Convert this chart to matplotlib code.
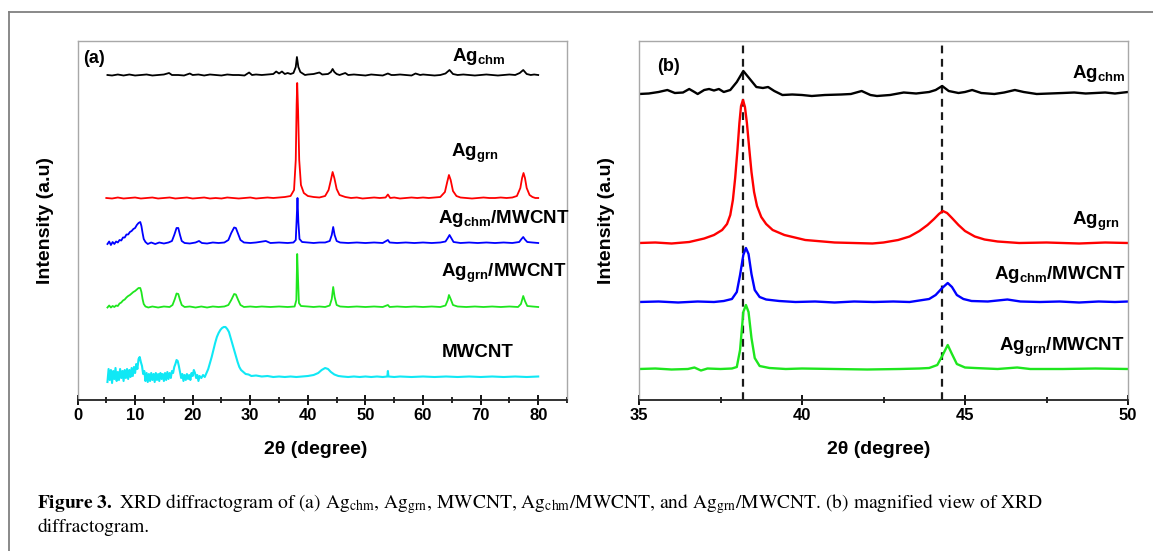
import matplotlib
matplotlib.use("Agg")
import matplotlib.pyplot as plt
from matplotlib.lines import Line2D
from matplotlib.ticker import MultipleLocator

plt.rcParams['font.family'] = ['Liberation Sans', 'DejaVu Sans']
plt.rcParams['mathtext.fontset'] = 'custom'
plt.rcParams['mathtext.rm'] = 'Liberation Sans:bold'
plt.rcParams['mathtext.bf'] = 'Liberation Sans:bold'
plt.rcParams['mathtext.it'] = 'Liberation Sans:bold:italic'

# ---- panel (a): full scan, stacked patterns (2theta, intensity a.u.) ----
wide_chm = [(5.2, 325), (6, 324.5), (7, 325.5), (8, 324.5), (9, 325.5), (10, 324.5), (11, 325),
            (12, 325.5), (13, 324.5), (14, 325), (15, 325.5), (15.9, 327), (16.4, 325), (17.5, 325),
            (18.5, 324.5), (19.5, 326.5), (20, 325), (21, 325.5), (22, 324.5), (23, 325.5), (24, 325),
            (25, 324.5), (26, 325.5), (27, 325), (28, 325), (29, 324.5), (29.8, 327.5), (30.3, 325),
            (31, 325.5), (32, 325), (33, 325.5), (34, 326), (34.5, 328.5), (35, 326.5), (35.5, 328.5),
            (36, 326), (36.5, 327), (37, 326), (37.5, 327), (37.9, 333), (38.1, 343), (38.35, 333),
            (38.7, 328), (39.1, 326.5), (39.5, 325), (40, 325.5), (41, 326), (42, 327.5), (42.5, 325.5),
            (43.5, 326), (44.0, 328), (44.3, 331), (44.6, 328), (45, 326), (45.5, 325), (46.5, 327),
            (47, 325), (48, 325.5), (49, 325), (50, 324.5), (51, 325.5), (52, 325), (53, 324.5),
            (53.9, 326.5), (54.5, 325), (55, 325), (56, 325.5), (57, 325), (58, 324.5), (58.7, 326.5),
            (59.5, 325), (60, 325.5), (61, 325), (62, 324.5), (63, 325), (63.9, 326.5), (64.6, 330),
            (65.2, 326), (66, 325), (67, 325.5), (68, 325), (69, 324.5), (70, 325), (71, 325.5),
            (72, 325), (73, 324.5), (74, 325), (75, 325.5), (76, 325), (76.8, 327), (77.4, 330),
            (78, 326), (78.7, 325), (79.3, 325.5), (80, 325)]

wide_grn = [(5, 202), (6, 201.5), (7, 202.5), (8, 201.5), (9, 202), (10, 202.5), (11, 201.5), (12, 202),
            (13, 202.5), (14, 201.5), (15, 202), (16, 202.5), (17, 201.5), (18, 202), (19, 202.5),
            (20, 201.5), (21, 202), (22, 202.5), (23, 201.5), (24, 202), (25, 201.5), (26, 202.5),
            (27, 202), (28, 201.5), (29, 202), (30, 202.5), (31, 201.5), (32, 202), (33, 202.5),
            (34, 202), (35, 202.5), (36, 203), (37, 204), (37.6, 210), (37.9, 240), (38.05, 295),
            (38.15, 317), (38.3, 290), (38.5, 240), (38.8, 215), (39.3, 207), (40, 204), (41, 203),
            (42, 202.5), (43, 204), (43.6, 210), (44.0, 220), (44.3, 228), (44.6, 222), (45, 211),
            (45.5, 205), (46.5, 203), (47.5, 202), (48.5, 202.5), (49.5, 201.5), (50.5, 202),
            (51.5, 202.5), (52.5, 202), (53.5, 202.5), (53.9, 205.5), (54.3, 202), (55, 202.5),
            (56, 201.5), (57, 202), (58, 202.5), (59, 202), (60, 202.5), (61, 202), (62, 202.5),
            (63, 203), (63.8, 208), (64.2, 218), (64.5, 225), (64.8, 220), (65.2, 209), (65.8, 204),
            (66.5, 202.5), (67.5, 202), (68.5, 201.5), (69.5, 202), (70.5, 202.5), (71.5, 202),
            (72.5, 202), (73.5, 202.5), (74.5, 202), (75.5, 202.5), (76.3, 204), (76.9, 212),
            (77.2, 222), (77.45, 227), (77.7, 222), (78.0, 212), (78.5, 205), (79, 203), (79.5, 202),
            (80, 202)]

wide_chm_cnt = [(5.2, 156), (5.5, 158.5), (5.8, 155), (6.1, 158), (6.4, 156), (6.7, 158.5), (7.0, 157.5),
                (7.3, 160), (7.6, 159.5), (7.9, 162.5), (8.2, 162.5), (8.5, 165.5), (8.8, 165.5),
                (9.1, 168), (9.4, 169), (9.7, 171), (10.0, 172), (10.3, 175), (10.6, 177), (10.9, 178),
                (11.1, 174), (11.3, 167), (11.5, 161), (11.8, 158), (12.2, 156), (12.8, 157.5),
                (13.5, 156), (14.2, 157.5), (15, 156.5), (15.8, 157.5), (16.4, 159), (16.8, 165),
                (17.2, 172), (17.5, 172), (17.8, 165), (18.1, 159), (18.6, 157), (19.5, 156.5),
                (20.5, 157.5), (21.1, 159), (21.6, 157), (22.5, 156.5), (23.5, 157.5), (24.5, 157),
                (25.5, 157.5), (26.2, 160), (26.7, 167), (27.2, 172.5), (27.5, 172), (27.9, 166),
                (28.3, 160), (28.9, 157.5), (30, 157), (31, 157.5), (32.7, 159), (33.5, 157),
                (35, 157.5), (36.5, 157), (37.5, 157.5), (37.9, 160), (38.05, 180), (38.2, 202),
                (38.35, 178), (38.55, 161), (39, 158), (40, 157.5), (41, 157), (42, 157.5),
                (43, 157.5), (43.8, 159), (44.15, 165), (44.4, 173), (44.65, 165), (45, 159),
                (45.6, 157.5), (47, 157), (48.5, 157.5), (50, 157), (51.5, 157.5), (53, 157),
                (53.9, 160), (54.2, 157.5), (55.5, 157), (57, 157.5), (58.5, 157), (60, 157.5),
                (61.5, 157), (63, 157.5), (63.9, 158.5), (64.3, 162), (64.6, 165), (64.9, 162),
                (65.3, 158), (66.5, 157), (68, 157.5), (69.5, 157), (71, 157.5), (72.5, 157),
                (74, 157.5), (75.5, 157), (76.7, 158), (77.1, 161), (77.4, 163), (77.7, 160.5),
                (78.1, 158), (79, 157.5), (80, 157)]

wide_grn_cnt = [(5.2, 92.5), (5.5, 94.5), (5.8, 92.5), (6.1, 94), (6.4, 93), (6.7, 94.5), (7.0, 94),
                (7.3, 96.5), (7.6, 97.5), (7.9, 99.5), (8.2, 100.5), (8.5, 102.5), (8.8, 104), (9.1, 105),
                (9.4, 106.5), (9.7, 108), (10.0, 109), (10.3, 110.5), (10.6, 112), (10.9, 112),
                (11.1, 108), (11.3, 101), (11.5, 96), (11.8, 93.5), (12.3, 92.5), (13, 93.5), (14, 92.5),
                (15, 93.5), (16, 93), (16.5, 95), (16.9, 101), (17.2, 106.5), (17.5, 106), (17.8, 100),
                (18.1, 95), (18.6, 93), (19.5, 93.5), (20.5, 92.5), (21.5, 93.5), (22.5, 92.5),
                (23.5, 93.5), (24.5, 93), (25.5, 93.5), (26.2, 95), (26.7, 100), (27.2, 106),
                (27.5, 105.5), (27.9, 100), (28.3, 95), (28.9, 93), (30, 93.5), (31, 93), (32, 93.5),
                (33.5, 93), (35, 93.5), (36.5, 93), (37.7, 93.5), (38.0, 100), (38.15, 146), (38.3, 120),
                (38.45, 97), (38.8, 94), (40, 93.5), (41, 93), (42, 93.5), (43, 93), (43.8, 94.5),
                (44.15, 101), (44.4, 113), (44.65, 103), (45, 95), (45.6, 93.5), (47, 93), (48.5, 93.5),
                (50, 93), (51.5, 93.5), (53, 93), (53.9, 95), (54.2, 93), (55.5, 93.5), (57, 93),
                (58.5, 93.5), (60, 93), (61.5, 93.5), (63, 93), (63.9, 94.5), (64.3, 100), (64.5, 105),
                (64.8, 101), (65.2, 95), (66, 93.5), (67.5, 93), (69, 93.5), (70.5, 93), (72, 93.5),
                (73.5, 93), (75, 93.5), (76.5, 93), (77, 96), (77.4, 104), (77.7, 99), (78.1, 94),
                (79, 93.5), (80, 93)]

wide_cnt = [(5.2, 18), (5.4, 31), (5.6, 20), (5.8, 30), (6.0, 17), (6.2, 29), (6.4, 21), (6.6, 32),
            (6.8, 19), (7.0, 28), (7.2, 20), (7.4, 31), (7.6, 22), (7.8, 29), (8.0, 19), (8.2, 30),
            (8.4, 22), (8.6, 31), (8.8, 21), (9.0, 30), (9.2, 23), (9.4, 32), (9.6, 24), (9.8, 33),
            (10.0, 27), (10.2, 36), (10.4, 31), (10.6, 41), (10.8, 43), (11.0, 38), (11.2, 34),
            (11.4, 26), (11.6, 29), (11.8, 19), (12.0, 27), (12.2, 18), (12.4, 26), (12.6, 19),
            (12.8, 27), (13.0, 20), (13.2, 26), (13.4, 18), (13.6, 27), (13.8, 20), (14.0, 26),
            (14.2, 19), (14.4, 27), (14.6, 21), (14.8, 26), (15.0, 19), (15.2, 27), (15.4, 20),
            (15.6, 28), (15.8, 21), (16.0, 27), (16.2, 22), (16.4, 29), (16.6, 27), (16.8, 33),
            (17.0, 36), (17.2, 40), (17.4, 39), (17.6, 34), (17.8, 28), (18.0, 22), (18.2, 26),
            (18.4, 19), (18.6, 25), (18.8, 20), (19.0, 26), (19.2, 21), (19.4, 25), (19.6, 20),
            (19.8, 27), (20.0, 24), (20.2, 30), (20.4, 27), (20.6, 22), (20.8, 25), (21.0, 19),
            (21.2, 24), (21.5, 22), (21.8, 25), (22.1, 23), (22.4, 27), (22.7, 31), (23.0, 37),
            (23.3, 43), (23.6, 50), (23.9, 57), (24.2, 63), (24.5, 67), (24.8, 70), (25.1, 72),
            (25.4, 73), (25.7, 73), (26.0, 71), (26.3, 68), (26.6, 62), (26.9, 56), (27.2, 50),
            (27.5, 44), (27.8, 38), (28.1, 33), (28.4, 30), (28.8, 28), (29.2, 26), (29.7, 25.5),
            (30.2, 24), (31, 24.5), (32, 23.5), (33, 24), (34, 23), (35, 23.5), (36, 23), (37, 23.5),
            (38, 23), (39, 23.5), (40, 24), (41, 25), (41.8, 27), (42.4, 30), (43.0, 32), (43.5, 31),
            (44.0, 28), (44.6, 25.5), (45.3, 24), (46, 23.5), (47, 23), (48, 23.5), (49, 23),
            (50, 23.5), (51, 23), (52, 23.5), (53, 23), (53.8, 23.5), (53.9, 29), (54.0, 23.5),
            (55, 23), (56, 23.5), (58, 23), (60, 23.5), (62, 23), (64, 23.5), (66, 23), (68, 23.5),
            (70, 23), (72, 23.5), (74, 23), (76, 23.5), (78, 23), (80, 23.5)]

# ---- panel (b): 35-50 degree zoom ----
zoom_chm = [(35, 306), (35.3, 306.5), (35.6, 308), (35.87, 310), (36.1, 307), (36.35, 307.5),
            (36.54, 311), (36.7, 308), (36.8, 306), (37.0, 310), (37.15, 311), (37.3, 309.5),
            (37.45, 311), (37.6, 308), (37.8, 310), (38.0, 318), (38.2, 329), (38.4, 321), (38.6, 313),
            (38.8, 312), (38.96, 313), (39.15, 309), (39.4, 305), (39.7, 305.5), (40.0, 305),
            (40.3, 304), (40.7, 305), (41.2, 305.5), (41.5, 306), (41.83, 309), (42.1, 305),
            (42.3, 304), (42.7, 305), (43.12, 307.5), (43.5, 306.5), (43.9, 308), (44.1, 310),
            (44.3, 314), (44.5, 309), (44.8, 307), (45.0, 308), (45.22, 310), (45.5, 307), (45.9, 306),
            (46.2, 307.5), (46.53, 310), (46.8, 308), (47.2, 306), (47.6, 306.5), (48.0, 307),
            (48.35, 307.5), (48.7, 306.5), (49.0, 307), (49.3, 307.5), (49.6, 306.5), (50, 308)]

zoom_grn = [(35, 157), (35.5, 157.5), (36, 156.5), (36.54, 158), (37.0, 161.5), (37.3, 165),
            (37.55, 170), (37.7, 176), (37.8, 185), (37.88, 200), (37.95, 222), (38.02, 250),
            (38.08, 277), (38.13, 294), (38.19, 300), (38.25, 293), (38.31, 277), (38.38, 252),
            (38.45, 228), (38.53, 208), (38.62, 194), (38.75, 183), (38.9, 176), (39.1, 170),
            (39.46, 165), (40.1, 160), (41, 157.5), (42.16, 156.5), (42.5, 157.5), (42.95, 160),
            (43.3, 163.5), (43.6, 169), (43.85, 175), (44.05, 181), (44.2, 186), (44.32, 189),
            (44.45, 187), (44.6, 182), (44.8, 175), (45.0, 169), (45.3, 163.5), (45.6, 160.5),
            (46.0, 158.5), (46.66, 157), (47.5, 157.5), (48.5, 156.5), (49.3, 157.5), (50, 157)]

zoom_chm_cnt = [(35, 98), (35.6, 98.5), (36.2, 97.5), (36.8, 98.5), (37.3, 98), (37.6, 99),
                (37.85, 101), (38.0, 108), (38.1, 125), (38.2, 145), (38.28, 152), (38.36, 146),
                (38.45, 126), (38.55, 110), (38.7, 103), (38.9, 100.5), (39.3, 99), (39.8, 98),
                (40.4, 98.5), (41, 97.5), (41.6, 98.5), (42.2, 98), (42.8, 98.5), (43.3, 98),
                (43.6, 99.5), (43.9, 101), (44.1, 105), (44.3, 112), (44.47, 117), (44.6, 113),
                (44.75, 105), (44.95, 101), (45.2, 99), (45.7, 98.5), (46.3, 100.5), (46.7, 98.5),
                (47.3, 98), (47.9, 98.5), (48.5, 97.5), (49.1, 98.5), (49.6, 98), (50, 98.5)]

zoom_grn_cnt = [(35, 31), (35.5, 31.5), (36, 30.5), (36.5, 31), (36.7, 32.5), (36.9, 29.5),
                (37.1, 31.5), (37.5, 31), (37.85, 31.5), (38.0, 33), (38.1, 50), (38.2, 88),
                (38.28, 95), (38.36, 88), (38.45, 62), (38.55, 42), (38.7, 34), (39, 32), (39.5, 31),
                (40, 31.5), (41, 31), (42, 30.5), (43, 31), (43.6, 31.5), (43.9, 32), (44.15, 35),
                (44.3, 44), (44.47, 55), (44.6, 46), (44.75, 36), (45.0, 32.5), (45.3, 32), (46, 31),
                (46.6, 32.5), (47, 31), (48, 31), (49, 31.5), (50, 31)]

ag_peaks = [38.19, 44.3]   # dashed reference lines in (b)
wide_ticks = [0, 10, 20, 30, 40, 50, 60, 70, 80]
zoom_ticks = [35, 40, 45, 50]

colors = ['#000000', '#ff0000', '#0000ff', '#1ee61e']
wide_series = [wide_chm, wide_grn, wide_chm_cnt, wide_grn_cnt, wide_cnt]
wide_colors = colors + ['#10e8f5']
zoom_series = [zoom_chm, zoom_grn, zoom_chm_cnt, zoom_grn_cnt]

chm = r'Ag$_{\mathrm{chm}}$'
grn = r'Ag$_{\mathrm{grn}}$'
wide_labels = [(chm, 69.7, 339), (grn, 69.0, 243), (chm + '/MWCNT', 74.0, 177),
               (grn + '/MWCNT', 74.0, 123), ('MWCNT', 69.5, 43)]
zoom_labels = [(chm, 49.92, 322), (grn, 49.75, 175), (chm + '/MWCNT', 49.92, 121),
               (grn + '/MWCNT', 49.9, 49)]

W, H = 1153, 551
fig = plt.figure(figsize=(W / 100, H / 100), dpi=100)

# outer figure frame (top and left edges)
fig.add_artist(Line2D([9 / W, 1], [1 - 12 / H, 1 - 12 / H], transform=fig.transFigure,
                      color='#808080', lw=1.3))
fig.add_artist(Line2D([9 / W, 9 / W], [0, 1 - 12 / H], transform=fig.transFigure,
                      color='#808080', lw=1.3))

ax_a = fig.add_axes([77.5 / W, 1 - 400 / H, 489.5 / W, 359 / H])
ax_b = fig.add_axes([639 / W, 1 - 400 / H, 489 / W, 359 / H])


def style_axes(ax, xlim, ticks, minor, xlabel_x):
    ax.set_xlim(*xlim)
    ax.set_ylim(0, 359)
    ax.set_yticks([])
    for side in ['left', 'top', 'right']:
        ax.spines[side].set_color('#a8a8a8')
        ax.spines[side].set_linewidth(1.0)
    ax.spines['bottom'].set_color('#222222')
    ax.spines['bottom'].set_linewidth(1.3)
    ax.set_xticks(ticks, labels=[str(t) for t in ticks], fontweight='bold')
    ax.xaxis.set_minor_locator(MultipleLocator(minor))
    ax.tick_params(axis='x', which='major', direction='inout', length=7, width=1.3,
                   labelsize=12, pad=2)
    ax.tick_params(axis='x', which='minor', direction='inout', length=4, width=1.2)
    ax.set_xlabel('2θ (degree)', fontsize=14, fontweight='bold')
    ax.set_ylabel('Intensity (a.u)', fontsize=14, fontweight='bold')
    ax.xaxis.set_label_coords(xlabel_x, -0.139)
    ax.xaxis.label.set_va('center')
    ax.yaxis.set_label_coords(-0.066, 0.5)
    ax.yaxis.label.set_va('center')


for pts, c in zip(wide_series, wide_colors):
    xs, ys = zip(*pts)
    ax_a.plot(xs, ys, color=c, lw=1.5 if c == '#10e8f5' else 1.3)
for text, x, y in wide_labels:
    ax_a.text(x, y, text, ha='center', va='baseline', fontsize=13.5, fontweight='bold')
ax_a.text(1.0, 337, '(a)', ha='left', va='baseline', fontsize=13, fontweight='bold')
style_axes(ax_a, (0, 85), wide_ticks, 5, 0.486)

for xp in ag_peaks:
    ax_b.axvline(xp, color='#1a1a1a', lw=1.6, linestyle=(0, (3.5, 2.5)), zorder=1)
for pts, c in zip(zoom_series, colors):
    xs, ys = zip(*pts)
    ax_b.plot(xs, ys, color=c, lw=1.7, zorder=2)
for text, x, y in zoom_labels:
    ax_b.text(x, y, text, ha='right', va='baseline', fontsize=13.5, fontweight='bold')
ax_b.text(35.55, 329, '(b)', ha='left', va='baseline', fontsize=13, fontweight='bold')
style_axes(ax_b, (35, 50), zoom_ticks, 2.5, 0.49)

# caption below the panels
caption_1 = (r'$\mathbf{Figure\ 3.}$ XRD diffractogram of (a) Ag$_{\mathrm{chm}}$, Ag$_{\mathrm{grn}}$, '
             r'MWCNT, Ag$_{\mathrm{chm}}$/MWCNT, and Ag$_{\mathrm{grn}}$/MWCNT. (b) magnified view of XRD')
caption_2 = 'diffractogram.'
for txt, yb in [(caption_1, 508), (caption_2, 532)]:
    fig.text(37 / W, 1 - yb / H, txt, fontfamily='STIXGeneral', math_fontfamily='stix',
             fontsize=14, fontweight='normal', va='baseline', ha='left')

fig.savefig('out.png', dpi=100)
